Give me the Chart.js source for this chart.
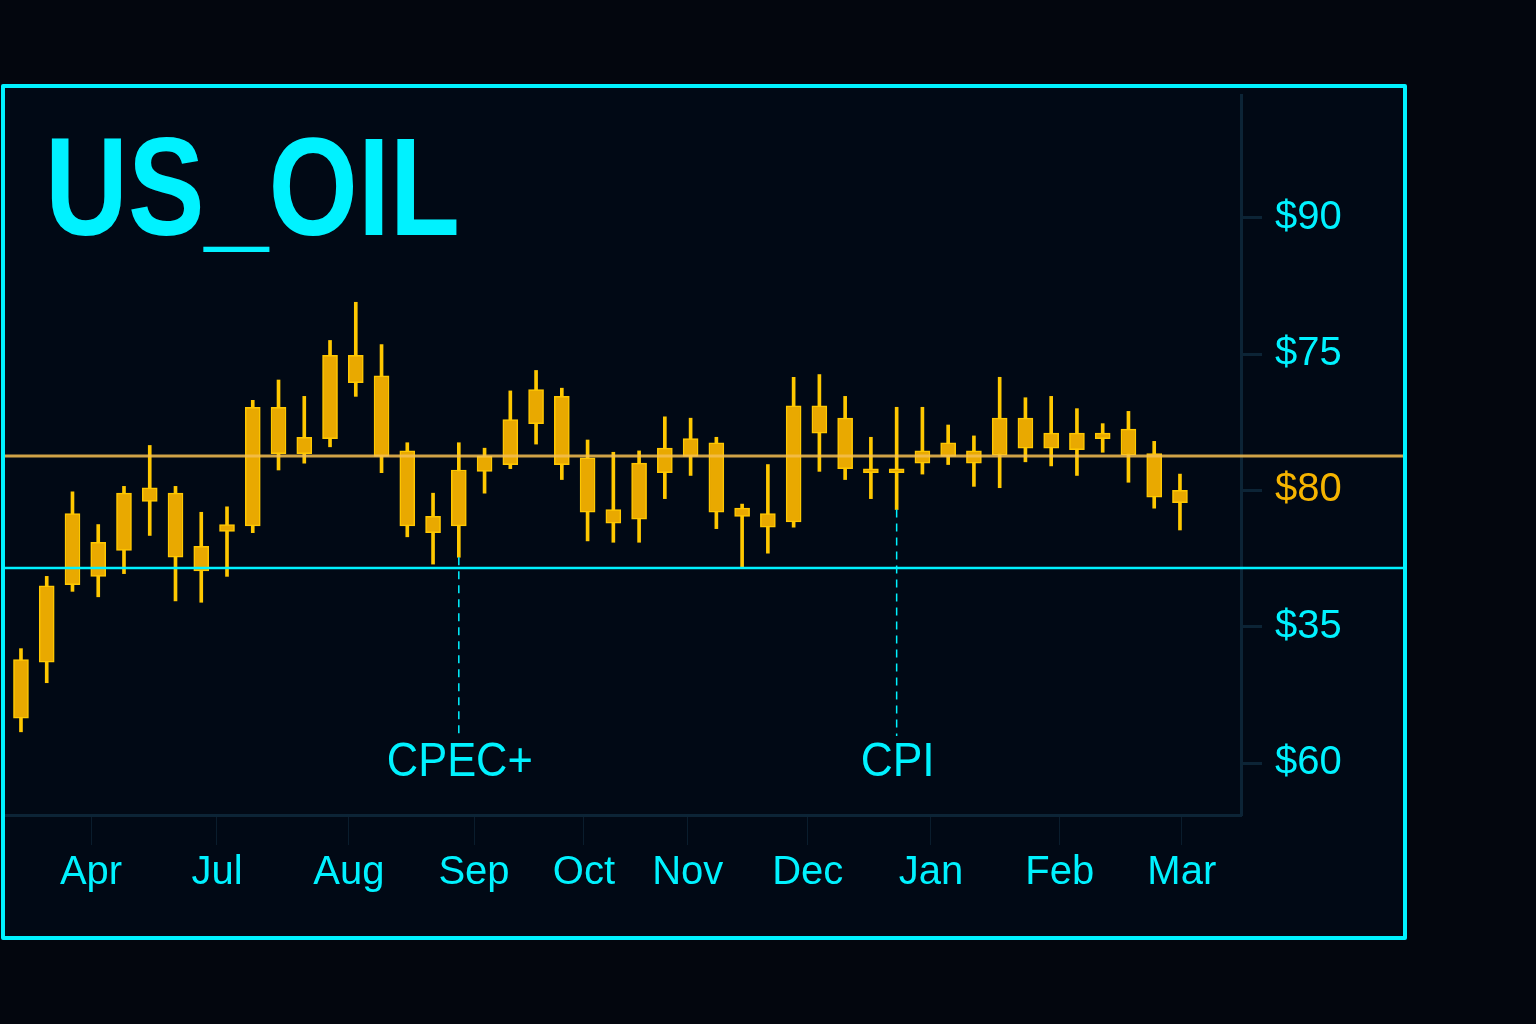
<!DOCTYPE html>
<html>
<head>
<meta charset="utf-8">
<script src="https://cdn.jsdelivr.net/npm/chart.js@4.4.1/dist/chart.umd.min.js"></script>
<style>
  html, body { margin: 0; padding: 0; background: #03060e; }
  #wrap { width: 1536px; height: 1024px; }
</style>
</head>
<body>
<div id="wrap"><canvas id="c" width="1536" height="1024"></canvas></div>
<script>
// ---- Data (y values in axis "level" units: tick slots 0..4 from bottom) ----
const TITLE = 'US_OIL';
const candleIndex = [0,1,2,3,4,5,6,7,8,9,10,11,12,13,14,15,16,17,18,19,20,21,22,23,24,25,26,27,28,29,30,31,32,33,34,35,36,37,38,39,40,41,42,43,44,45];
const opens  = [0.33,0.74,1.31,1.37,1.56,1.92,1.98,1.41,1.70,1.74,2.61,2.27,2.38,2.99,2.84,2.29,1.69,1.74,2.14,2.19,2.49,2.69,2.24,1.76,1.79,2.13,2.25,2.35,1.81,1.73,1.77,2.62,2.53,2.14,2.14,2.20,2.25,2.20,2.26,2.31,2.31,2.30,2.38,2.45,2.27,1.91];
const closes = [0.76,1.30,1.83,1.62,1.98,2.02,1.51,1.59,1.75,2.61,2.27,2.39,2.99,2.79,2.25,1.74,1.81,2.15,2.25,2.52,2.74,2.19,1.84,1.86,2.20,2.31,2.38,1.84,1.87,1.83,2.62,2.42,2.16,2.13,2.13,2.29,2.35,2.29,2.53,2.53,2.42,2.42,2.42,2.26,1.95,2.00];
const highs  = [0.84,1.37,1.99,1.75,2.03,2.33,2.03,1.84,1.88,2.66,2.81,2.69,3.10,3.38,3.07,2.35,1.98,2.35,2.31,2.73,2.88,2.75,2.37,2.28,2.29,2.54,2.53,2.39,1.90,2.19,2.83,2.85,2.69,2.39,2.61,2.61,2.48,2.40,2.83,2.68,2.69,2.60,2.49,2.58,2.36,2.12];
const lows   = [0.23,0.59,1.26,1.22,1.39,1.67,1.19,1.18,1.37,1.69,2.15,2.20,2.32,2.69,2.13,1.66,1.46,1.51,1.98,2.16,2.34,2.08,1.63,1.62,1.62,1.94,2.11,1.72,1.44,1.54,1.73,2.14,2.08,1.94,1.86,2.12,2.19,2.03,2.02,2.21,2.18,2.11,2.28,2.06,1.87,1.71];
const yTickLevels = [0, 1, 2, 3, 4];
const yTickLabels = ['$60', '$35', '$80', '$75', '$90'];
const monthPositions = [2.72, 7.61, 12.73, 17.59, 21.86, 25.89, 30.55, 35.33, 40.33, 45.07];
const monthLabels = ['Apr', 'Jul', 'Aug', 'Sep', 'Oct', 'Nov', 'Dec', 'Jan', 'Feb', 'Mar'];
const resistanceLevel = 2.253;
const supportLevel = 1.431;
const eventLabels = ['CPEC+', 'CPI'];
const eventIndex = [17, 34];

// ---- Styles ----
const CYAN = '#00f2ff';
const ORANGE = '#e9a900';
const ORANGE_EDGE = '#ffc800';
const AXIS_DARK = '#0c2436';

const wickData = candleIndex.map(i => ({ x: i, y: [lows[i], highs[i]] }));
const bodyData = candleIndex.map(i => ({ x: i, y: [opens[i], closes[i]] }));

function drawScaledText(ctx, text, x, y, font, targetWidth, align) {
  ctx.save();
  ctx.font = font;
  const w = ctx.measureText(text).width;
  const s = targetWidth ? targetWidth / w : 1;
  ctx.textBaseline = 'alphabetic';
  ctx.textAlign = 'left';
  let left = x;
  if (align === 'center') left = x - (w * s) / 2;
  ctx.translate(left, y);
  ctx.scale(s, 1);
  ctx.fillText(text, 0, 0);
  ctx.restore();
}

const decorPlugin = {
  id: 'decor',
  beforeDraw(chart) {
    const ctx = chart.ctx;
    ctx.save();
    ctx.fillStyle = '#03060e';
    ctx.fillRect(0, 0, chart.width, chart.height);
    ctx.fillStyle = '#010915';
    ctx.fillRect(3, 86, 1402, 852);
    ctx.restore();
  },
  afterDatasetsDraw(chart) {
    const ctx = chart.ctx;
    const xs = chart.scales.x, ys = chart.scales.y;
    ctx.save();
    // resistance line (orange)
    let yr = ys.getPixelForValue(resistanceLevel);
    ctx.strokeStyle = 'rgba(245,190,80,0.85)';
    ctx.lineWidth = 3;
    ctx.beginPath(); ctx.moveTo(4, yr); ctx.lineTo(1404, yr); ctx.stroke();
    // support line (cyan)
    let ysup = ys.getPixelForValue(supportLevel);
    ctx.strokeStyle = CYAN;
    ctx.lineWidth = 2.5;
    ctx.beginPath(); ctx.moveTo(4, ysup); ctx.lineTo(1404, ysup); ctx.stroke();
    // event markers
    eventIndex.forEach((idx, k) => {
      const x = xs.getPixelForValue(idx);
      const y0 = ys.getPixelForValue(lows[idx]);
      ctx.strokeStyle = CYAN;
      ctx.lineWidth = 1.5;
      ctx.setLineDash([8, 6]);
      ctx.beginPath(); ctx.moveTo(x, y0); ctx.lineTo(x, 736); ctx.stroke();
      ctx.setLineDash([]);
      ctx.fillStyle = CYAN;
      const widths = [146, 74];
      drawScaledText(ctx, eventLabels[k], x + 1, 776, '48px "Liberation Sans", Arial, sans-serif', widths[k], 'center');
    });
    ctx.restore();
  },
  afterDraw(chart) {
    const ctx = chart.ctx;
    ctx.save();
    // frame
    ctx.strokeStyle = CYAN;
    ctx.lineWidth = 4;
    ctx.lineJoin = 'round';
    ctx.beginPath();
    ctx.rect(3, 86, 1402, 852);
    ctx.stroke();
    // title
    ctx.fillStyle = CYAN;
    drawScaledText(ctx, TITLE, 45, 235, 'bold 140px "Liberation Sans", Arial, sans-serif', 415, 'left');
    ctx.restore();
  }
};

new Chart(document.getElementById('c'), {
  type: 'bar',
  data: {
    datasets: [
      {
        label: 'wick',
        data: wickData,
        backgroundColor: ORANGE_EDGE,
        borderWidth: 0,
        barThickness: 3,
        grouped: false,
        order: 2
      },
      {
        label: 'body',
        data: bodyData,
        backgroundColor: ORANGE,
        borderColor: ORANGE_EDGE,
        borderWidth: 1.5,
        borderSkipped: false,
        barThickness: 15,
        minBarLength: 4,
        grouped: false,
        order: 1
      }
    ]
  },
  options: {
    responsive: false,
    animation: false,
    devicePixelRatio: 1,
    layout: { padding: { top: 95, left: 5, right: 0, bottom: 0 } },
    plugins: {
      legend: { display: false },
      tooltip: { enabled: false },
      title: { display: false }
    },
    scales: {
      x: {
        type: 'linear',
        position: 'bottom',
        offset: false,
        min: -0.62,
        max: 47.37,
        afterBuildTicks(scale) { scale.ticks = monthPositions.map(v => ({ value: v })); },
        afterFit(scale) { scale.height = 1024 - 815; },
        ticks: {
          autoSkip: false,
          maxRotation: 0,
          minRotation: 0,
          padding: 4,
          color: CYAN,
          font: { family: '"Liberation Sans", Arial, sans-serif', size: 40 },
          callback: (v, i) => monthLabels[i]
        },
        grid: { offset: false, drawOnChartArea: false, drawTicks: true, tickLength: 30, color: 'rgba(20,50,70,0.5)', tickWidth: 1 },
        border: { display: true, color: AXIS_DARK, width: 3 }
      },
      y: {
        type: 'linear',
        position: 'right',
        min: -0.38,
        max: 4.90,
        afterBuildTicks(scale) { scale.ticks = yTickLevels.map(v => ({ value: v })); },
        afterFit(scale) { scale.width = 1536 - 1241; },
        ticks: {
          padding: 13,
          color: (c) => (c.index === 2 ? '#f5b400' : CYAN),
          font: { family: '"Liberation Sans", Arial, sans-serif', size: 40 },
          callback: (v, i) => yTickLabels[i]
        },
        grid: { drawOnChartArea: false, drawTicks: true, tickLength: 21, color: AXIS_DARK, tickWidth: 3 },
        border: { display: true, color: AXIS_DARK, width: 3 }
      }
    }
  },
  plugins: [decorPlugin]
});
</script>
</body>
</html>
